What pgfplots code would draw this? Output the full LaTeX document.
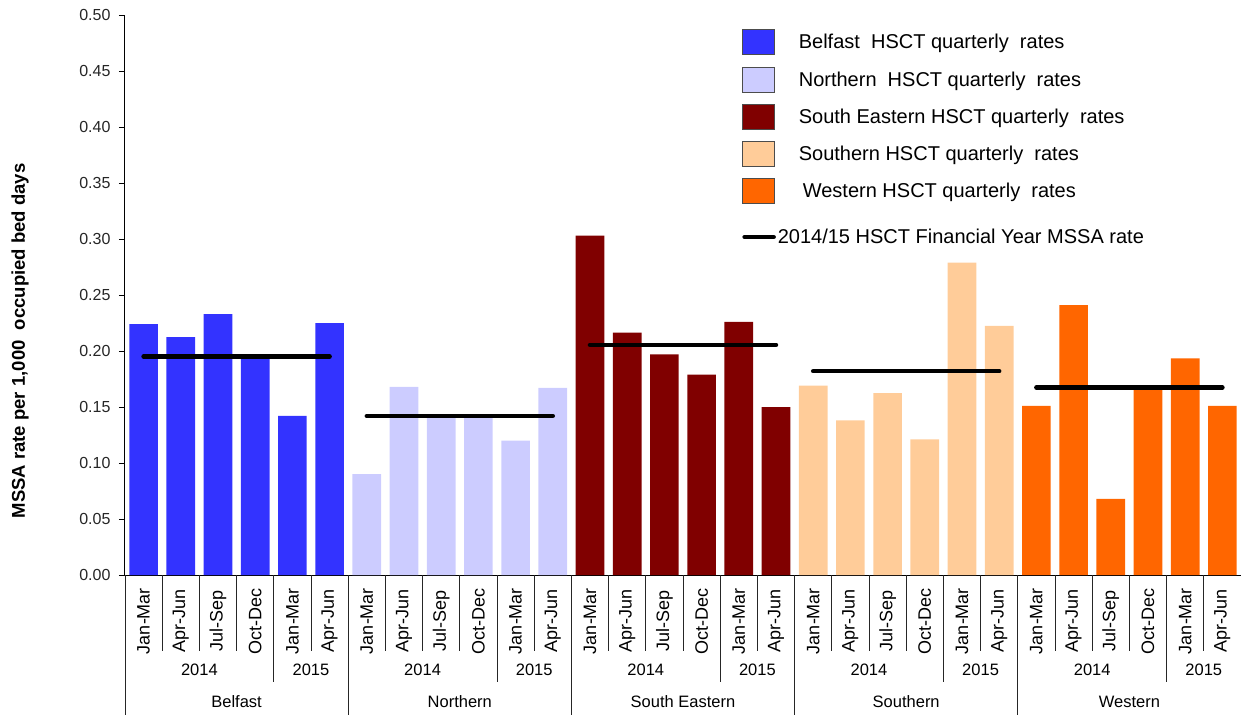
\documentclass[border=0pt]{standalone}
\usepackage{pgfplots}
\pgfplotsset{compat=1.18}
\usepackage{fontspec}
\setmainfont{Liberation Sans}
\definecolor{cBel}{HTML}{3333FF}
\definecolor{cNor}{HTML}{CCCCFF}
\definecolor{cSE}{HTML}{800000}
\definecolor{cSou}{HTML}{FFCC99}
\definecolor{cWes}{HTML}{FF6600}
\begin{document}
\begin{tikzpicture}
\begin{axis}[
  scale only axis, width=1116pt, height=560pt,
  xmin=-0.5, xmax=29.5, ymin=0, ymax=0.5,
  axis x line*=bottom, axis y line*=left,
  axis line style={black, line width=1pt},
  clip=false,
  xtick={0,...,29},
  xticklabels={Jan-Mar,Apr-Jun,Jul-Sep,Oct-Dec,Jan-Mar,Apr-Jun,
               Jan-Mar,Apr-Jun,Jul-Sep,Oct-Dec,Jan-Mar,Apr-Jun,
               Jan-Mar,Apr-Jun,Jul-Sep,Oct-Dec,Jan-Mar,Apr-Jun,
               Jan-Mar,Apr-Jun,Jul-Sep,Oct-Dec,Jan-Mar,Apr-Jun,
               Jan-Mar,Apr-Jun,Jul-Sep,Oct-Dec,Jan-Mar,Apr-Jun},
  x tick label style={rotate=90, anchor=center, font=\fontsize{18}{20}\selectfont},
  xticklabel shift=40pt,
  major x tick style={draw=none},
  ytick={0,0.05,0.1,0.15,0.2,0.25,0.3,0.35,0.4,0.45,0.5},
  tick align=outside, major tick length=6pt,
  major y tick style={black, line width=0.8pt},
  y tick label style={/pgf/number format/fixed, /pgf/number format/fixed zerofill,
     /pgf/number format/precision=2, /pgf/number format/assume math mode=true,
     font=\fontsize{16}{18}\selectfont, text=black!85, xshift=-5pt},
  ylabel={MSSA rate per 1,000\ \ occupied bed days},
  y label style={at={(axis description cs:-0.094,0.418)}, anchor=center,
     font=\bfseries\fontsize{18.5}{20}\selectfont},
  legend cell align=left,
  legend style={at={(0.553,0.9746)}, anchor=north west, draw=none, fill=none,
     inner sep=0pt, outer sep=0pt, row sep=11.3pt, column sep=0pt,
     font=\fontsize{20}{24}\selectfont, nodes={inner sep=0pt}},
]
% Belfast
\addplot[ybar, bar width=0.77, bar shift=0pt, fill=cBel, draw=none, forget plot]
  coordinates {(0,0.224) (1,0.2125) (2,0.233) (3,0.194) (4,0.142) (5,0.225)};
% Northern
\addplot[ybar, bar width=0.77, bar shift=0pt, fill=cNor, draw=none, forget plot]
  coordinates {(6,0.090) (7,0.168) (8,0.141) (9,0.141) (10,0.120) (11,0.167)};
% South Eastern
\addplot[ybar, bar width=0.77, bar shift=0pt, fill=cSE, draw=none, forget plot]
  coordinates {(12,0.303) (13,0.2165) (14,0.197) (15,0.179) (16,0.226) (17,0.150)};
% Southern
\addplot[ybar, bar width=0.77, bar shift=0pt, fill=cSou, draw=none, forget plot]
  coordinates {(18,0.169) (19,0.138) (20,0.1625) (21,0.121) (22,0.279) (23,0.2225)};
% Western
\addplot[ybar, bar width=0.77, bar shift=0pt, fill=cWes, draw=none, forget plot]
  coordinates {(24,0.151) (25,0.241) (26,0.068) (27,0.166) (28,0.1935) (29,0.151)};
% Financial year rates
\addplot[black, line width=4.5pt, line cap=round, forget plot] coordinates {(0,0.195) (5,0.195)};
\addplot[black, line width=4.5pt, line cap=round, forget plot] coordinates {(6,0.142) (11,0.142)};
\addplot[black, line width=4.5pt, line cap=round, forget plot] coordinates {(12,0.2054) (17,0.2054)};
\addplot[black, line width=4.5pt, line cap=round, forget plot] coordinates {(18,0.182) (23,0.182)};
\addplot[black, line width=4.5pt, line cap=round, forget plot] coordinates {(24,0.1673) (29,0.1673)};
% legend
\addlegendimage{legend image code/.code={\draw[fill=cBel, draw=black!70, line width=1pt] (0pt,-12.5pt) rectangle (32pt,12.5pt); \path (56pt,0pt);}}
\addlegendentry{Belfast\ \ HSCT quarterly\ \ rates}
\addlegendimage{legend image code/.code={\draw[fill=cNor, draw=black!70, line width=1pt] (0pt,-12.5pt) rectangle (32pt,12.5pt); \path (56pt,0pt);}}
\addlegendentry{Northern\ \ HSCT quarterly\ \ rates}
\addlegendimage{legend image code/.code={\draw[fill=cSE, draw=black!70, line width=1pt] (0pt,-12.5pt) rectangle (32pt,12.5pt); \path (56pt,0pt);}}
\addlegendentry{South Eastern HSCT quarterly\ \ rates}
\addlegendimage{legend image code/.code={\draw[fill=cSou, draw=black!70, line width=1pt] (0pt,-12.5pt) rectangle (32pt,12.5pt); \path (56pt,0pt);}}
\addlegendentry{Southern HSCT quarterly\ \ rates}
\addlegendimage{legend image code/.code={\draw[fill=cWes, draw=black!70, line width=1pt] (0pt,-12.5pt) rectangle (32pt,12.5pt); \path (56pt,0pt);}}
\addlegendentry{\hspace{4pt}Western HSCT quarterly\ \ rates}
\addlegendimage{legend image code/.code={\draw[black, line width=4.5pt, line cap=round] (2pt,0pt) -- (31pt,0pt); \path (0pt,21pt);}}
\addlegendentry{\hspace{-21pt}2014/15 HSCT Financial Year MSSA rate}
% separators
\pgfplotsinvokeforeach{0.5,1.5,2.5,4.5,6.5,7.5,8.5,10.5,12.5,13.5,14.5,16.5,18.5,19.5,20.5,22.5,24.5,25.5,26.5,28.5}{
  \draw[black!85, line width=0.9pt] (axis cs:#1,0) -- ++(0pt,-76pt);}
\pgfplotsinvokeforeach{3.5,9.5,15.5,21.5,27.5}{
  \draw[black!85, line width=0.9pt] (axis cs:#1,0) -- ++(0pt,-107pt);}
\pgfplotsinvokeforeach{-0.5,5.5,11.5,17.5,23.5}{
  \draw[black!85, line width=0.9pt] (axis cs:#1,0) -- ++(0pt,-140pt);}
% year and trust labels
\pgfplotsinvokeforeach{0,6,12,18,24}{
  \node[font=\fontsize{16.5}{18}\selectfont] at ([yshift=-95pt]axis cs:#1+1.5,0) {2014};
  \node[font=\fontsize{16.5}{18}\selectfont] at ([yshift=-95pt]axis cs:#1+4.5,0) {2015};}
\node[font=\fontsize{16.5}{18}\selectfont] at ([yshift=-127pt]axis cs:2.5,0) {Belfast};
\node[font=\fontsize{16.5}{18}\selectfont] at ([yshift=-127pt]axis cs:8.5,0) {Northern};
\node[font=\fontsize{16.5}{18}\selectfont] at ([yshift=-127pt]axis cs:14.5,0) {South Eastern};
\node[font=\fontsize{16.5}{18}\selectfont] at ([yshift=-127pt]axis cs:20.5,0) {Southern};
\node[font=\fontsize{16.5}{18}\selectfont] at ([yshift=-127pt]axis cs:26.5,0) {Western};
\end{axis}
\pgfresetboundingbox
\path (-125pt,-140pt) rectangle (1117pt,575pt);
\end{tikzpicture}
\end{document}
